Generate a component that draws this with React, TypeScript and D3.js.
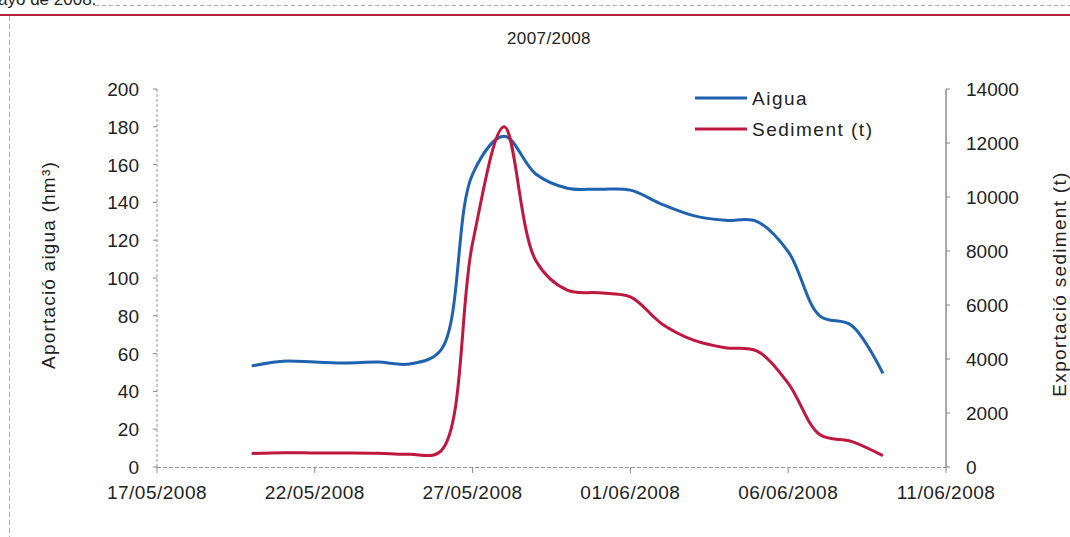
import React from "react";
import * as d3 from "d3";

const dates = [
  "20/05/2008", "21/05/2008", "22/05/2008", "23/05/2008", "24/05/2008", "25/05/2008", "26/05/2008",
  "27/05/2008", "28/05/2008", "29/05/2008", "30/05/2008", "31/05/2008", "01/06/2008", "02/06/2008",
  "03/06/2008", "04/06/2008", "05/06/2008", "06/06/2008", "07/06/2008", "08/06/2008", "09/06/2008",
];
const aigua = [53.5, 56, 55.5, 55, 55.5, 54.5, 62, 155, 175, 155, 147.5, 147, 146.5, 139, 133, 130.5, 130, 114, 80, 75, 49.5];
const sediment = [500, 530, 520, 520, 510, 470, 600, 8300, 12600, 7650, 6550, 6450, 6300, 5300, 4700, 4420, 4300, 3100, 1200, 950, 420];
const xTickLabels = ["17/05/2008", "22/05/2008", "27/05/2008", "01/06/2008", "06/06/2008", "11/06/2008"];
const leftTicks = [0, 20, 40, 60, 80, 100, 120, 140, 160, 180, 200];
const rightTicks = [0, 2000, 4000, 6000, 8000, 10000, 12000, 14000];
const seriesNames = ["Aigua", "Sediment (t)"];
const title = "2007/2008";
const leftTitle = "Aportació aigua (hm³)";
const rightTitle = "Exportació sediment  (t)";

const parse = d3.timeParse("%d/%m/%Y");
const BLUE = "#1f62b0";
const RED = "#c0173f";
const FONT = "'Liberation Sans', Arial, sans-serif";

export default function App() {
  const x = d3.scaleTime().domain([parse(xTickLabels[0])!, parse(xTickLabels[xTickLabels.length - 1])!]).range([157, 946]);
  const yL = d3.scaleLinear().domain([0, 200]).range([467, 89]);
  const yR = d3.scaleLinear().domain([0, 14000]).range([467, 89]);
  const curve = d3.curveCatmullRom.alpha(0.5);
  const lineA = d3.line<number>().x((_, i) => x(parse(dates[i])!)).y((d) => yL(d)).curve(curve);
  const lineS = d3.line<number>().x((_, i) => x(parse(dates[i])!)).y((d) => yR(d)).curve(curve);
  const [x0, x1] = x.range();
  return (
    <svg width={1070} height={537} style={{ position: "absolute", left: 0, top: 0, background: "#fff" }} fontFamily={FONT}>
      <rect width={1070} height={537} fill="#fff" />
      {/* header remnants of the scanned page */}
      <text x={-2} y={5} fontSize={17} fill="#222">ayo de 2008.</text>
      <line x1={95} x2={1070} y1={5.5} y2={5.5} stroke="#aaa" strokeWidth={1} strokeDasharray="4 3" />
      <line x1={0} x2={1070} y1={15} y2={15} stroke="#b5213f" strokeWidth={2} />
      <line x1={9.5} x2={9.5} y1={16} y2={537} stroke="#aaa" strokeWidth={1} strokeDasharray="5 3" />

      <text x={549} y={44} textAnchor="middle" fontSize={17} letterSpacing={0.4} fill="#222">{title}</text>

      {/* axes */}
      <line x1={x0} x2={x0} y1={89} y2={467} stroke="#999" strokeWidth={1} strokeDasharray="3 2" />
      <line x1={x1} x2={x1} y1={89} y2={467} stroke="#555" strokeWidth={1} />
      <line x1={x0} x2={x1} y1={467.5} y2={467.5} stroke="#999" strokeWidth={1} strokeDasharray="4 2" />
      {leftTicks.map((t) => (
        <g key={"l" + t}>
          <line x1={x0 - 4} x2={x0} y1={yL(t)} y2={yL(t)} stroke="#888" />
          <text x={139} y={yL(t) + 7} textAnchor="end" fontSize={19} fill="#222">{t}</text>
        </g>
      ))}
      {rightTicks.map((t) => (
        <g key={"r" + t}>
          <line x1={x1} x2={x1 + 4} y1={yR(t)} y2={yR(t)} stroke="#888" />
          <text x={966} y={yR(t) + 7} textAnchor="start" fontSize={19} fill="#222">{t}</text>
        </g>
      ))}
      {xTickLabels.map((lab) => {
        const px = x(parse(lab)!);
        return (
          <g key={lab}>
            <line x1={px} x2={px} y1={467} y2={473} stroke="#888" />
            <text x={px} y={499} textAnchor="middle" fontSize={19} letterSpacing={0.5} fill="#222">{lab}</text>
          </g>
        );
      })}

      <text transform="translate(55,265) rotate(-90)" textAnchor="middle" fontSize={19} letterSpacing={1.2} fill="#222">{leftTitle}</text>
      <text transform="translate(1066,284) rotate(-90)" textAnchor="middle" fontSize={19} letterSpacing={1.3} fill="#222">{rightTitle}</text>

      {/* series */}
      <path d={lineA(aigua) ?? ""} fill="none" stroke={BLUE} strokeWidth={3} strokeLinejoin="round" />
      <path d={lineS(sediment) ?? ""} fill="none" stroke={RED} strokeWidth={3} strokeLinejoin="round" />

      {/* legend */}
      <line x1={695} x2={747} y1={98} y2={98} stroke={BLUE} strokeWidth={3} />
      <text x={752} y={105} fontSize={19} letterSpacing={1.5} fill="#222">{seriesNames[0]}</text>
      <line x1={695} x2={747} y1={129} y2={129} stroke={RED} strokeWidth={3} />
      <text x={752} y={136} fontSize={19} letterSpacing={1.5} fill="#222">{seriesNames[1]}</text>
    </svg>
  );
}
